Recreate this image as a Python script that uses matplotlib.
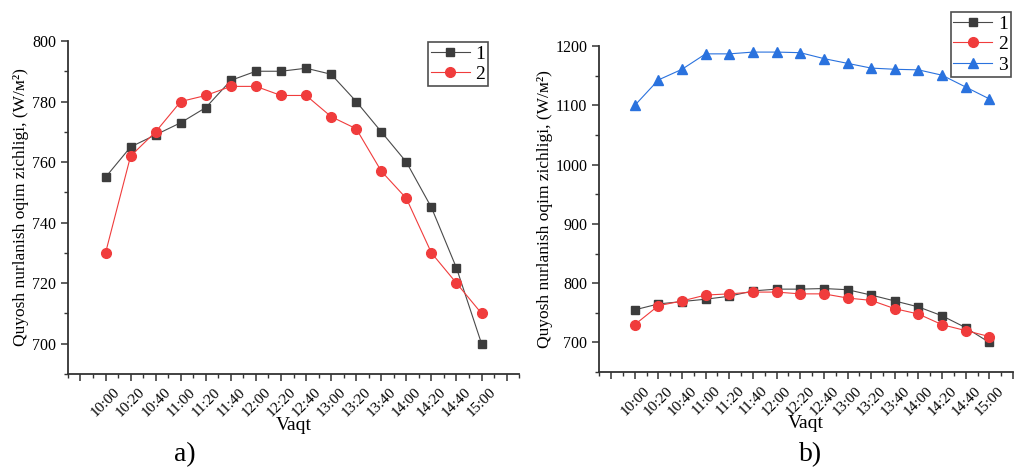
#!/usr/bin/env python3

import matplotlib as mpl
import matplotlib.pyplot as plt
import matplotlib.transforms as mtransforms
from matplotlib.ticker import MultipleLocator

times = ["10:00", "10:20", "10:40", "11:00", "11:20", "11:40", "12:00", "12:20",
         "12:40", "13:00", "13:20", "13:40", "14:00", "14:20", "14:40", "15:00"]
series_1 = [755, 765, 769, 773, 778, 787, 790, 790, 791, 789, 780, 770, 760, 745, 725, 700]
series_2 = [730, 762, 770, 780, 782, 785, 785, 782, 782, 775, 771, 757, 748, 730, 720, 710]
series_3 = [1100, 1143, 1161, 1187, 1187, 1190, 1190, 1189, 1179, 1171, 1163, 1161, 1160, 1151, 1131, 1111]
legend_names = ["1", "2", "3"]

YLABEL = "Quyosh nurlanish oqim zichligi, (W/м²)"
XLABEL = "Vaqt"

STYLES = [
    dict(color="#4a4a4a", marker="s", ms=6, mfc="#3c3c3c", mec="#3c3c3c", lw=0.8),
    dict(color="#f03c3c", marker="o", ms=7, mfc="#f03c3c", mec="#f03c3c", lw=0.8),
    dict(color="#2a72de", marker="^", ms=7, mfc="#2a72de", mec="#2a72de", lw=0.8),
]


def style_axis(ax, fig, xlim, ylim, ymajor, yminor):
    for side in ["top", "right"]:
        ax.spines[side].set_visible(False)
    for side in ["left", "bottom"]:
        ax.spines[side].set_linewidth(1.3)
        ax.spines[side].set_color("#333333")
    ax.set_xlim(*xlim)
    ax.set_ylim(*ylim)
    ax.xaxis.set_minor_locator(MultipleLocator(0.5))
    ax.yaxis.set_major_locator(MultipleLocator(ymajor))
    ax.yaxis.set_minor_locator(MultipleLocator(yminor))
    ax.tick_params(which="major", direction="out", length=5, width=1.1, color="#333333")
    ax.tick_params(which="minor", direction="out", length=3, width=1.0, color="#333333")
    ax.tick_params(axis="y", labelsize=11.5)
    ax.tick_params(axis="x", labelsize=11)
    positions = list(range(-1, int(xlim[1]) + 1))
    ax.set_xticks(positions)
    labels = [times[i] if 0 <= i < len(times) else "" for i in positions]
    ax.set_xticklabels(labels, rotation=45, ha="right", rotation_mode="anchor")
    offset = mtransforms.ScaledTranslation(8 / 100, 0, fig.dpi_scale_trans)
    for lbl in ax.get_xticklabels():
        lbl.set_transform(lbl.get_transform() + offset)


def add_legend(ax, anchor):
    leg = ax.legend(loc="upper right", bbox_to_anchor=anchor, fontsize=14,
                    frameon=True, fancybox=False, edgecolor="#222222",
                    handlelength=2.0, borderpad=0.15, labelspacing=0.15,
                    handletextpad=0.3, borderaxespad=0.0)
    leg.get_frame().set_linewidth(1.2)


def main():
    mpl.rcParams["font.family"] = ["Liberation Serif", "DejaVu Serif"]
    fig = plt.figure(figsize=(10.14, 4.71), dpi=100)
    x = list(range(len(times)))

    ax1 = fig.add_axes([0.067, 0.206, 0.445, 0.707])
    ax1.plot(x, series_1, label=legend_names[0], **STYLES[0])
    ax1.plot(x, series_2, label=legend_names[1], **STYLES[1])
    style_axis(ax1, fig, (-1.5, 16.5), (690, 800), 20, 10)
    ax1.set_ylabel(YLABEL, fontsize=12.5)
    ax1.yaxis.set_label_coords(-0.087, 0.5)
    ax1.set_xlabel(XLABEL, fontsize=14, labelpad=-2)
    add_legend(ax1, ((488 - 68) / 451, 1.0 + (41 - 42) / 333))

    ax2 = fig.add_axes([0.591, 0.21, 0.408, 0.692])
    ax2.plot(x, series_1, label=legend_names[0], **STYLES[0])
    ax2.plot(x, series_2, label=legend_names[1], **STYLES[1])
    ax2.plot(x, series_3, label=legend_names[2], **STYLES[2])
    style_axis(ax2, fig, (-1.5, 16.0), (650, 1200), 100, 50)
    ax2.set_ylabel(YLABEL, fontsize=12.5)
    ax2.yaxis.set_label_coords(-0.111, 0.5)
    ax2.set_xlabel(XLABEL, fontsize=14, labelpad=-2)
    add_legend(ax2, ((1011 - 599) / 414, 1.0 + (46 - 12) / 326))

    fig.text(0.182, 0.034, "a)", fontsize=20, ha="center", va="center")
    fig.text(0.799, 0.034, "b)", fontsize=20, ha="center", va="center")

    fig.savefig("out.png", dpi=100)


if __name__ == "__main__":
    main()
